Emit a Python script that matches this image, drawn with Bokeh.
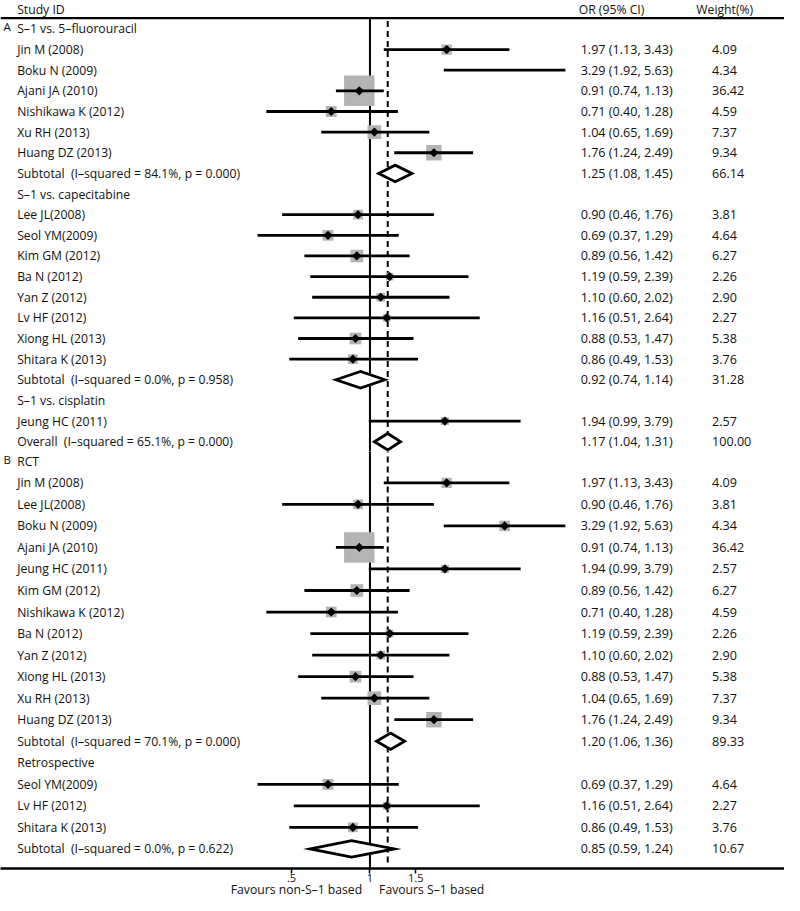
import math
from bokeh.plotting import figure
from bokeh.models import (ColumnDataSource, Range1d, LogScale, LogAxis,
                          FixedTicker, Span)
from bokeh.layouts import column
from bokeh.core.properties import value
from bokeh.embed import file_html
from bokeh.resources import INLINE

NAN = float("nan")

# ---------------- data: panel A (by comparator) ----------------
a_letter = "A"
a_labels = ["S–1 vs. 5–fluorouracil", "Jin M (2008)", "Boku N (2009)", "Ajani JA (2010)",
            "Nishikawa K (2012)", "Xu RH (2013)", "Huang DZ (2013)",
            "Subtotal\u00a0 (I–squared = 84.1%, p = 0.000)",
            "S–1 vs. capecitabine", "Lee JL(2008)", "Seol YM(2009)", "Kim GM (2012)",
            "Ba N (2012)", "Yan Z (2012)", "Lv HF (2012)", "Xiong HL (2013)", "Shitara K (2013)",
            "Subtotal\u00a0 (I–squared = 0.0%, p = 0.958)",
            "S–1 vs. cisplatin", "Jeung HC (2011)",
            "Overall\u00a0 (I–squared = 65.1%, p = 0.000)"]
a_kind = ["group", "study", "study", "study", "study", "study", "study", "sub",
          "group", "study", "study", "study", "study", "study", "study", "study", "study", "sub",
          "group", "study", "overall"]
a_or = [NAN, 1.97, 3.29, 0.91, 0.71, 1.04, 1.76, 1.25,
        NAN, 0.90, 0.69, 0.89, 1.19, 1.10, 1.16, 0.88, 0.86, 0.92,
        NAN, 1.94, 1.17]
a_lo = [NAN, 1.13, 1.92, 0.74, 0.40, 0.65, 1.24, 1.08,
        NAN, 0.46, 0.37, 0.56, 0.59, 0.60, 0.51, 0.53, 0.49, 0.74,
        NAN, 0.99, 1.04]
a_hi = [NAN, 3.43, 5.63, 1.13, 1.28, 1.69, 2.49, 1.45,
        NAN, 1.76, 1.29, 1.42, 2.39, 2.02, 2.64, 1.47, 1.53, 1.14,
        NAN, 3.79, 1.31]
a_wt = [NAN, 4.09, 4.34, 36.42, 4.59, 7.37, 9.34, 66.14,
        NAN, 3.81, 4.64, 6.27, 2.26, 2.90, 2.27, 5.38, 3.76, 31.28,
        NAN, 2.57, 100.00]
a_box_drawn = [False, True, False, True, True, True, True, False,
               False, True, True, True, True, True, True, True, True, False,
               False, True, False]

# ---------------- data: panel B (by design) ----------------
b_letter = "B"
b_labels = ["RCT", "Jin M (2008)", "Lee JL(2008)", "Boku N (2009)", "Ajani JA (2010)",
            "Jeung HC (2011)", "Kim GM (2012)", "Nishikawa K (2012)", "Ba N (2012)",
            "Yan Z (2012)", "Xiong HL (2013)", "Xu RH (2013)", "Huang DZ (2013)",
            "Subtotal\u00a0 (I–squared = 70.1%, p = 0.000)",
            "Retrospective", "Seol YM(2009)", "Lv HF (2012)", "Shitara K (2013)",
            "Subtotal\u00a0 (I–squared = 0.0%, p = 0.622)"]
b_kind = ["group", "study", "study", "study", "study", "study", "study", "study", "study",
          "study", "study", "study", "study", "sub",
          "group", "study", "study", "study", "sub"]
b_or = [NAN, 1.97, 0.90, 3.29, 0.91, 1.94, 0.89, 0.71, 1.19, 1.10, 0.88, 1.04, 1.76, 1.20,
        NAN, 0.69, 1.16, 0.86, 0.85]
b_lo = [NAN, 1.13, 0.46, 1.92, 0.74, 0.99, 0.56, 0.40, 0.59, 0.60, 0.53, 0.65, 1.24, 1.06,
        NAN, 0.37, 0.51, 0.49, 0.59]
b_hi = [NAN, 3.43, 1.76, 5.63, 1.13, 3.79, 1.42, 1.28, 2.39, 2.02, 1.47, 1.69, 2.49, 1.36,
        NAN, 1.29, 2.64, 1.53, 1.24]
b_wt = [NAN, 4.09, 3.81, 4.34, 36.42, 2.57, 6.27, 4.59, 2.26, 2.90, 5.38, 7.37, 9.34, 89.33,
        NAN, 4.64, 2.27, 3.76, 10.67]
b_box_drawn = [k == "study" for k in b_kind]

headers = ["Study ID", "OR (95% CI)", "Weight(%)"]
axis_ticks = [0.5, 1, 1.5]
axis_tick_labels = {0.5: ".5", 1: "1", 1.5: "1.5"}
favours = ["Favours non-S–1 based", "Favours S–1 based"]
overall_or = a_or[a_kind.index("overall")]

# ---------------- layout constants (reference pixel space 800 x 911) ----------------
SY = 0.98                     # page px per reference px (vertical)
FW = 784                      # frame width (page px)
ONE_PX, PX_PER_LN = 377.0, 115.4
LOG_LO = math.exp(-ONE_PX / PX_PER_LN)
LOG_HI = math.exp((800 - ONE_PX) / PX_PER_LN)
FAV_POS = [math.exp((302 - ONE_PX) / PX_PER_LN), math.exp((440 - ONE_PX) / PX_PER_LN)]
FONT = value("Open Sans")
FS_LAB = value("12.2px")
FS_NUM = value("12.6px")
TXT = "#111111"
BOX = "#b4b4b4"
LW = 2.8


def make_panel(labels, kind, est, lo, hi, wt, box_drawn, letter,
               row0, rowpx, top_px, bot_px, is_top):
    n = len(labels)
    px2y = lambda p: (p - row0) / rowpx
    frame_h = round((bot_px - top_px) * SY)
    p = figure(frame_width=FW, frame_height=frame_h, output_backend="svg",
               toolbar_location=None, x_axis_type=None, y_axis_type=None,
               x_range=Range1d(0, 800), y_range=Range1d(px2y(bot_px), px2y(top_px)),
               min_border_left=0, min_border_right=0, min_border_top=0,
               min_border_bottom=0)
    p.extra_x_ranges = {"or": Range1d(LOG_LO, LOG_HI)}
    p.extra_x_scales = {"or": LogScale()}
    p.outline_line_color = None
    p.background_fill_color = "white"
    p.border_fill_color = "white"

    rows = list(range(n))
    # --- texts
    ortxt = ["" if k == "group" else f"{e:.2f} ({l:.2f}, {h:.2f})"
             for k, e, l, h in zip(kind, est, lo, hi)]
    wtxt = ["" if k == "group" else f"{w:.2f}" for k, w in zip(kind, wt)]
    tsrc = ColumnDataSource(dict(y=rows, lab=labels, ort=ortxt, wt=wtxt))
    common = dict(text_font=FONT, text_baseline="middle",
                  text_align="left", text_color=TXT, source=tsrc)
    p.text(x=17, y="y", text="lab", text_font_size=FS_LAB, **common)
    p.text(x=592, y="y", text="ort", text_font_size=FS_NUM, **common)
    p.text(x=726, y="y", text="wt", text_font_size=FS_NUM, **common)
    p.text(x=[3], y=[-0.1], text=[letter], text_font=FONT, text_font_size=value("11.5px"),
           text_baseline="middle", text_align="left", text_color=TXT)

    if is_top:
        hy = px2y(5)
        p.text(x=[17, 590, 710], y=[hy] * 3, text=headers, text_font=FONT,
               text_font_size=FS_LAB, text_baseline="middle", text_align="left",
               text_color=TXT)
        top_line = px2y(14)
        p.add_layout(Span(location=top_line, dimension="width", line_color="black",
                          line_width=2.2))
        v_top, d_top, v_bot, d_bot = top_line, px2y(17), px2y(bot_px + 5), px2y(bot_px + 5)
    else:
        v_top, d_top = px2y(top_px - 5), px2y(top_px - 5)
        v_bot, d_bot = px2y(bot_px), px2y(bot_px - 4)

    # --- reference lines
    p.segment(x0=[1], x1=[1], y0=[v_top], y1=[v_bot], x_range_name="or",
              line_color="black", line_width=2)
    p.segment(x0=[overall_or], x1=[overall_or], y0=[d_top], y1=[d_bot], x_range_name="or",
              line_color="black", line_width=2, line_dash="6 4")

    # --- studies
    st = [i for i in rows if kind[i] == "study"]
    bx = [i for i in st if box_drawn[i]]
    bsrc = ColumnDataSource(dict(x=[est[i] for i in bx], y=bx,
                                 s=[5.05 * math.sqrt(wt[i]) for i in bx]))
    p.scatter(x="x", y="y", size="s", marker="square", source=bsrc, x_range_name="or",
              fill_color=BOX, line_color=None)
    ssrc = ColumnDataSource(dict(e=[est[i] for i in st], l=[lo[i] for i in st],
                                 h=[hi[i] for i in st], y=st))
    p.segment(x0="l", x1="h", y0="y", y1="y", source=ssrc, x_range_name="or",
              line_color="black", line_width=LW)
    dsrc = ColumnDataSource(dict(x=[est[i] for i in bx], y=bx))
    p.scatter(x="x", y="y", size=6.5, marker="square", angle=math.pi / 4, source=dsrc,
              x_range_name="or", fill_color="black", line_color=None)

    # --- pooled diamonds
    dh = 8.4 / rowpx
    pooled = [i for i in rows if kind[i] in ("sub", "overall")]
    psrc = ColumnDataSource(dict(
        xs=[[lo[i], est[i], hi[i], est[i]] for i in pooled],
        ys=[[i, i - dh, i, i + dh] for i in pooled]))
    p.patches(xs="xs", ys="ys", source=psrc, x_range_name="or", fill_color="white",
              line_color="black", line_width=LW, line_join="miter")

    if not is_top:
        ax = LogAxis(x_range_name="or", ticker=FixedTicker(ticks=axis_ticks),
                     major_label_overrides=axis_tick_labels)
        ax.axis_line_width = 2.4
        ax.axis_line_color = "black"
        ax.major_tick_in = 0
        ax.major_tick_out = 5
        ax.major_tick_line_width = 1.5
        ax.minor_tick_in = 0
        ax.minor_tick_out = 0
        ax.major_label_standoff = 0
        ax.major_label_text_font = "Open Sans"
        ax.major_label_text_font_size = "11px"
        ax.major_label_text_color = TXT
        p.add_layout(ax, "below")
        fav = LogAxis(x_range_name="or", ticker=FixedTicker(ticks=FAV_POS),
                      major_label_overrides=dict(zip(FAV_POS, favours)))
        fav.axis_line_color = None
        fav.major_tick_in = 0
        fav.major_tick_out = 0
        fav.minor_tick_in = 0
        fav.minor_tick_out = 0
        fav.major_label_standoff = -4
        fav.major_label_text_font = "Open Sans"
        fav.major_label_text_font_size = "12.2px"
        fav.major_label_text_color = TXT
        p.add_layout(fav, "below")
    return p


pA = make_panel(a_labels, a_kind, a_or, a_lo, a_hi, a_wt, a_box_drawn, a_letter,
                25.0, 21.05, -4, 456, True)
pB = make_panel(b_labels, b_kind, b_or, b_lo, b_hi, b_wt, b_box_drawn, b_letter,
                466.0, 22.0, 456, 882, False)

layout = column(pA, pB, spacing=0)
open("out.html", "w").write(file_html(layout, INLINE))
